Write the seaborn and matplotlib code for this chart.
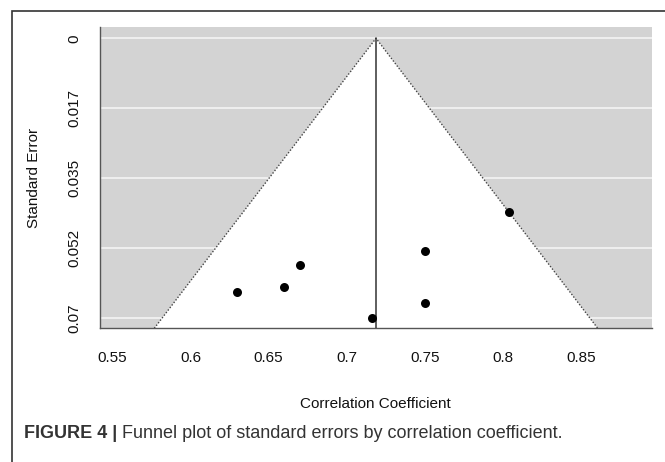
import matplotlib
matplotlib.use("Agg")
import matplotlib.pyplot as plt
import seaborn as sns
import pandas as pd
from matplotlib.patches import Rectangle, Polygon

# ---- data ----
correlation = [0.630, 0.660, 0.670, 0.716, 0.750, 0.750, 0.804]
std_error = [0.0634, 0.0621, 0.0567, 0.0698, 0.0531, 0.0662, 0.0435]
pooled_estimate = 0.7188
y_ticks = [0, 0.0175, 0.035, 0.0525, 0.07]
y_tick_labels = ["0", "0.017", "0.035", "0.052", "0.07"]
x_ticks = [0.55, 0.6, 0.65, 0.7, 0.75, 0.8, 0.85]
x_tick_labels = ["0.55", "0.6", "0.65", "0.7", "0.75", "0.8", "0.85"]
x_label = "Correlation Coefficient"
y_label = "Standard Error"
caption_bold = "FIGURE 4 |"
caption_text = " Funnel plot of standard errors by correlation coefficient."

sns.set_style("white")
plt.rcParams['font.family'] = ['Liberation Sans', 'DejaVu Sans']

W, H = 665, 462
fig = plt.figure(figsize=(W / 100, H / 100), dpi=100)
ax = fig.add_axes([100 / W, 1 - 328.3 / H, 551.7 / W, 301.6 / H])

xlim = (0.5419, 0.8955)
ylim = (0.0725, -0.0029)
ax.set_xlim(xlim)
ax.set_ylim(ylim)
ax.set_facecolor('#d3d3d3')

for t in y_ticks:
    ax.axhline(t, color='#f4f4f4', lw=1.2, zorder=1)

ymax = ylim[0]
left_x = pooled_estimate - 1.96 * ymax
right_x = pooled_estimate + 1.96 * ymax
funnel = Polygon([[left_x, ymax], [pooled_estimate, 0], [right_x, ymax]],
                 closed=True, facecolor='white', edgecolor='none', zorder=2)
ax.add_patch(funnel)
ax.plot([left_x, pooled_estimate, right_x], [ymax, 0, ymax], ls=(0, (1, 1.3)),
        color='#444444', lw=1.0, zorder=3)
ax.plot([pooled_estimate, pooled_estimate], [0, ymax], color='#333333', lw=1.1, zorder=3)

df = pd.DataFrame({"r": correlation, "se": std_error})
sns.scatterplot(data=df, x="r", y="se", ax=ax, color='black', s=42,
                edgecolor='black', linewidth=0, zorder=4, clip_on=False, legend=False)

ax.set_xticks(x_ticks)
ax.set_xticklabels(x_tick_labels)
ax.set_yticks(y_ticks)
ax.set_yticklabels(y_tick_labels, rotation=90, va='center')
ax.tick_params(axis='both', direction='out', length=7.2, width=1.0, color='#444444',
               labelsize=11, labelcolor='#111111')
ax.tick_params(axis='x', pad=9.5)
ax.tick_params(axis='y', pad=6)

for s in ['top', 'right']:
    ax.spines[s].set_visible(False)
for s in ['left', 'bottom']:
    ax.spines[s].set_visible(True)
    ax.spines[s].set_color('#555555')
    ax.spines[s].set_linewidth(1.0)

ax.set_xlabel(x_label, fontsize=11, color='#111111', labelpad=23)
ax.set_ylabel(y_label, fontsize=11, color='#111111', labelpad=19)

# outer frame of the figure panel
fig.patches.append(Rectangle((12 / W, -0.2), 1.5, (1 - 11 / H) + 0.2, transform=fig.transFigure,
                             fill=False, edgecolor='#333333', lw=1.2))

t1 = fig.text(24 / W, 1 - 433 / H, caption_bold, fontsize=13, weight='bold',
              color='#333333', va='center', ha='left')
ax.annotate(caption_text, xy=(1, 0.5), xycoords=t1, va='center', ha='left',
            fontsize=13, color='#333333', annotation_clip=False)

fig.savefig('out.png', dpi=100)
